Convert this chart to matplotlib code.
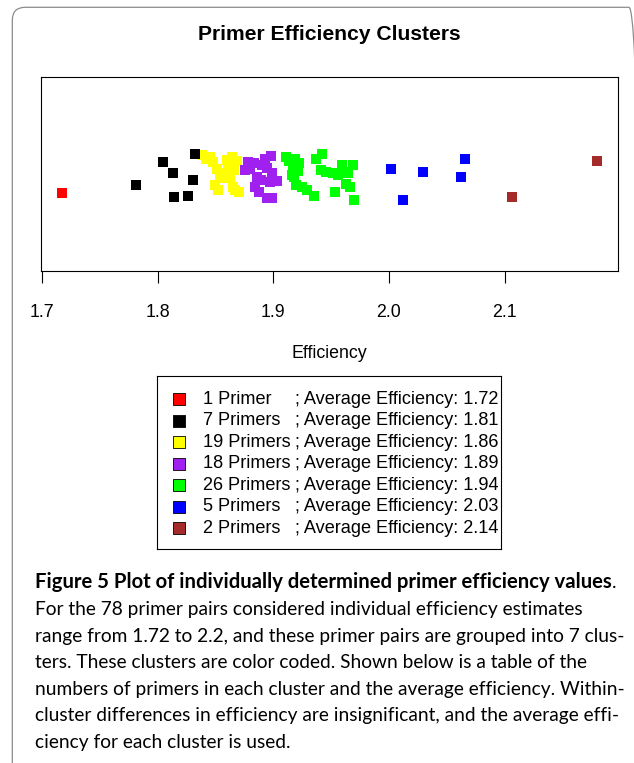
import matplotlib
matplotlib.use('Agg')
import matplotlib.pyplot as plt
from matplotlib.patches import FancyBboxPatch

plt.rcParams['font.family'] = ['Liberation Sans', 'DejaVu Sans']

# efficiency of each primer pair (x) and its vertical jitter (y), per cluster
red_x = [1.717]
red_y = [-0.19]

black_x = [1.781, 1.805, 1.813, 1.814, 1.826, 1.831, 1.832]
black_y = [-0.11, 0.13, 0.01, -0.24, -0.23, -0.06, 0.21]

yellow_x = [1.838, 1.842, 1.848, 1.851, 1.860, 1.864, 1.861, 1.869, 1.857, 1.863,
            1.854, 1.850, 1.852, 1.865, 1.867, 1.870, 1.858, 1.845, 1.866]
yellow_y = [0.20, 0.16, 0.13, 0.05, 0.15, 0.18, 0.10, 0.14, -0.03, -0.04,
            -0.04, -0.11, -0.16, -0.13, -0.16, -0.18, 0.01, 0.18, 0.04]

purple_x = [1.878, 1.883, 1.876, 1.880, 1.886, 1.884, 1.888, 1.893, 1.898, 1.895,
            1.899, 1.897, 1.903, 1.899, 1.895, 1.889, 1.890, 1.879]
purple_y = [0.13, 0.11, 0.04, 0.05, -0.03, -0.13, -0.18, 0.16, 0.19, 0.06,
            0.01, -0.08, -0.07, -0.25, -0.25, -0.06, 0.09, 0.07]

green_x = [1.911, 1.919, 1.917, 1.916, 1.918, 1.920, 1.925, 1.929, 1.935, 1.937,
           1.942, 1.941, 1.952, 1.953, 1.959, 1.960, 1.965, 1.969, 1.963, 1.966,
           1.970, 1.946, 1.921, 1.922, 1.956, 1.914]
green_y = [0.18, 0.16, 0.09, -0.01, -0.03, -0.11, -0.13, -0.16, -0.23, 0.16,
           0.21, 0.04, 0.01, -0.18, 0.09, 0.02, 0.01, 0.09, -0.10, -0.13,
           -0.27, 0.02, 0.03, 0.11, -0.01, 0.14]

blue_x = [2.002, 2.012, 2.029, 2.062, 2.066]
blue_y = [0.05, -0.27, 0.02, -0.03, 0.16]

brown_x = [2.106, 2.180]
brown_y = [-0.24, 0.14]

cluster_x = [red_x, black_x, yellow_x, purple_x, green_x, blue_x, brown_x]
cluster_y = [red_y, black_y, yellow_y, purple_y, green_y, blue_y, brown_y]
cluster_colors = ['#FF0000', '#000000', '#FFFF00', '#A020F0', '#00FF00', '#0000FF', '#A52A2A']
cluster_counts = [1, 7, 19, 18, 26, 5, 2]
cluster_means = [1.72, 1.81, 1.86, 1.89, 1.94, 2.03, 2.14]
x_ticks = [1.7, 1.8, 1.9, 2.0, 2.1]

caption_title = 'Figure 5 Plot of individually determined primer efficiency values'
caption_lines = [
    'For the 78 primer pairs considered individual efficiency estimates',
    'range from 1.72 to 2.2, and these primer pairs are grouped into 7 clus-',
    'ters. These clusters are color coded. Shown below is a table of the',
    'numbers of primers in each cluster and the average efficiency. Within-',
    'cluster differences in efficiency are insignificant, and the average effi-',
    'ciency for each cluster is used.',
]

W, H = 634, 763
fig = plt.figure(figsize=(W / 100, H / 100), dpi=100)


# axes rectangle from pixel edges (measured from the top-left corner)
def px_box(left, top, right, bottom):
    return [left / W, 1 - bottom / H, (right - left) / W, (bottom - top) / H]


# rounded page frame of the journal figure
frame = FancyBboxPatch((0.123, -0.5), 6.42 - 0.123, 7.557 + 0.5,
                       boxstyle='round,pad=0,rounding_size=0.13',
                       transform=fig.dpi_scale_trans, fill=False,
                       edgecolor='#8c8c8c', linewidth=0.9, clip_on=False)
fig.add_artist(frame)

# strip chart
ax = fig.add_axes(px_box(40.7, 77.3, 618.3, 271))
for i in [2, 3, 4, 1, 0, 5, 6]:
    ax.scatter(cluster_x[i], cluster_y[i], marker='s', s=52,
               c=cluster_colors[i], linewidths=0)
ax.set_xlim(1.699, 2.1982)
ax.set_ylim(-1, 1)
ax.set_yticks([])
ax.set_xticks(x_ticks)
ax.set_xticklabels([f'{t:.1f}' for t in x_ticks])
ax.tick_params(axis='x', direction='out', length=8.6, width=0.8, pad=15.5,
               labelsize=12.8)
for sp in ax.spines.values():
    sp.set_linewidth(0.8)
ax.set_xlabel('Efficiency', fontsize=12.8, labelpad=17)
fig.text(329.5 / W, 1 - 35 / H, 'Primer Efficiency Clusters', ha='center',
         va='center', fontsize=15.2, fontweight='bold')

# legend table
lax = fig.add_axes(px_box(157.3, 376, 500.7, 549.3))
lax.set_xlim(0, 343.4)
lax.set_ylim(173.3, 0)
lax.set_xticks([])
lax.set_yticks([])
for sp in lax.spines.values():
    sp.set_linewidth(0.8)
row_y = [23.3 + 21.5 * i for i in range(len(cluster_counts))]
lax.scatter([22] * len(row_y), row_y, marker='s', s=72, c=cluster_colors,
            edgecolors='black', linewidths=0.6)
for y, n, m in zip(row_y, cluster_counts, cluster_means):
    label = f'{n} Primer' if n == 1 else f'{n} Primers'
    lax.text(46, y, label, va='center', fontsize=13.1)
    lax.text(137.5, y, f'; Average Efficiency: {m:.2f}', va='center', fontsize=13.1)

# caption, sized so the lines fill the same width as in the page
renderer = fig.canvas.get_renderer()
cap_font = ['Lato', 'DejaVu Sans']

probe = fig.text(0, 0, caption_lines[0], fontsize=14, family=cap_font)
cap_size = 14 * 551 / probe.get_window_extent(renderer).width
probe.remove()

head = fig.text(35 / W, 1 - 582 / H, caption_title, fontsize=14,
                family=cap_font, fontweight='bold', va='center')
head.set_fontsize(14 * 579 / head.get_window_extent(renderer).width)
head_right = head.get_window_extent(renderer).x1
fig.text(head_right / W, 1 - 582 / H, '.', fontsize=cap_size, family=cap_font,
         va='center')

for k, line in enumerate(caption_lines):
    fig.text(35 / W, 1 - (610 + 26.5 * k) / H, line, fontsize=cap_size,
             family=cap_font, va='center')

fig.savefig('out.png', dpi=100)
